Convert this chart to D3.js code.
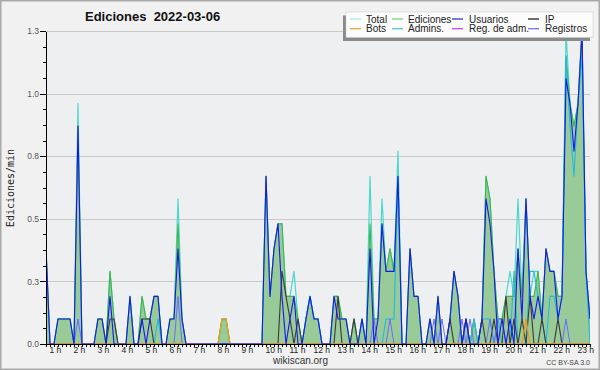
<!DOCTYPE html>
<meta charset="utf-8">
<style>
body { margin: 0; font-family: "Liberation Sans", Arial, sans-serif; }
.axis path, .axis line { stroke: #000; shape-rendering: crispEdges; }
.axis text { fill: #333; font-family: "Liberation Sans", Arial, sans-serif; }
</style>
<body>
<svg width="600" height="370"></svg>
<script src="https://d3js.org/d3.v7.min.js"></script>
<script>

// 10-minute bins from 1:00 to 23:40, edits per minute
var hourLabels = ["1 h","2 h","3 h","4 h","5 h","6 h","7 h","8 h","9 h","10 h","11 h","12 h",
                  "13 h","14 h","15 h","16 h","17 h","18 h","19 h","20 h","21 h","22 h","23 h"];
var yTicks = [0, 0.25, 0.5, 0.75, 1, 1.25];
var yTickLabels = ["0.0", "0.3", "0.5", "0.8", "1.0", "1.3"];
var legendNames = ["Total", "Ediciones", "Usuarios", "IP", "Bots", "Admins.", "Reg. de adm.", "Registros"];

var total = [
  0.38,0,0,0.1,0.1,0.1,  0.1,0,0.96,0,0,0,  0,0.1,0.1,0,0.29,0.1,  0,0,0,0.19,0,0,
  0.19,0.1,0.1,0.19,0.19,0,  0,0.1,0.1,0.58,0.1,0,  0,0,0,0,0,0,  0,0,0.1,0.1,0,0,
  0,0,0,0,0,0,  0,0.67,0.19,0.38,0.48,0.48,  0.19,0.19,0.29,0.1,0,0.1,  0.19,0.1,0.1,0,0,0,
  0.19,0.19,0.1,0.1,0,0.1,  0,0.1,0,0.67,0.1,0.1,  0.58,0.29,0.38,0.29,0.77,0,  0,0.38,0.19,0.19,0,0,
  0.1,0,0.19,0,0,0.1,  0.29,0.19,0,0.1,0,0.1,  0,0.1,0.67,0.58,0.29,0.1,  0.1,0.19,0.29,0.19,0.58,0.19,
  0.58,0.19,0.29,0.29,0.1,0.38,  0.29,0.29,0.19,0.19,1.25,0.96,  0.87,0.96,1.25,0.29,0.1
];
var ediciones = [
  0.38,0,0,0.1,0.1,0.1,  0.1,0,0.87,0,0,0,  0,0.1,0.1,0,0.29,0.1,  0,0,0,0.19,0,0,
  0.19,0.1,0.1,0.19,0.19,0,  0,0.1,0.1,0.48,0.1,0,  0,0,0,0,0,0,  0,0,0.1,0.1,0,0,
  0,0,0,0,0,0,  0,0.67,0.19,0.38,0.48,0.48,  0.19,0.19,0.19,0.1,0,0.1,  0.19,0.1,0.1,0,0,0,
  0.19,0.19,0.1,0.1,0,0.1,  0,0.1,0,0.48,0.1,0.1,  0.48,0.29,0.38,0.29,0.67,0,  0,0.38,0.19,0.19,0,0,
  0.1,0,0.19,0,0,0.1,  0.29,0.19,0,0.1,0,0.1,  0,0.1,0.67,0.58,0.29,0.1,  0.1,0.19,0.19,0.19,0.38,0.19,
  0.58,0.19,0.19,0.29,0.1,0.38,  0.29,0.29,0.19,0.19,1.15,0.96,  0.87,0.96,1.25,0.29,0.1
];
var usuarios = [
  0.38,0,0,0.1,0.1,0.1,  0.1,0,0.87,0,0,0,  0,0.1,0.1,0,0.19,0,  0,0,0,0.19,0,0,
  0.1,0,0.1,0.19,0.19,0,  0,0.1,0.1,0.38,0.1,0,  0,0,0,0,0,0,  0,0,0,0,0,0,
  0,0,0,0,0,0,  0,0.67,0.19,0.38,0.48,0.19,  0,0.1,0.19,0,0,0.1,  0.19,0.1,0.1,0,0,0,
  0.19,0.1,0.1,0.1,0,0,  0,0.1,0,0.38,0,0.1,  0.48,0.29,0.29,0.29,0.67,0,  0,0.38,0.19,0.19,0,0,
  0.1,0,0.19,0,0,0.1,  0.29,0.19,0,0.1,0,0,  0,0.1,0.58,0.48,0.29,0,  0.1,0,0.1,0,0.38,0.1,
  0.58,0.19,0.1,0.19,0.1,0.38,  0.29,0.29,0.1,0.19,1.06,0.96,  0.77,0.96,1.25,0.29,0.1
];
var ip = [
  0,0,0,0,0,0,  0,0,0,0,0,0,  0,0,0,0,0.1,0.1,  0,0,0,0,0,0,
  0.1,0.1,0.1,0,0,0,  0,0,0,0,0,0,  0,0,0,0,0,0,  0,0,0,0,0,0,
  0,0,0,0,0,0,  0,0,0,0,0,0.29,  0.19,0.1,0,0.1,0,0,  0,0,0,0,0,0,
  0,0.19,0,0,0,0.1,  0,0,0,0,0,0,  0,0,0,0,0,0,  0,0,0,0,0,0,
  0,0,0,0,0,0.1,  0,0,0,0.1,0,0,  0,0.1,0,0,0.1,0,  0,0.19,0,0.1,0,0.1,
  0,0.19,0,0,0.1,0,  0,0,0.1,0,0,0,  0,0,0,0,0
];
var bots = [
  0,0,0,0,0,0,  0,0,0,0,0,0,  0,0,0,0,0,0,  0,0,0,0,0,0,
  0,0,0,0,0,0,  0,0,0,0,0,0,  0,0,0,0,0,0,  0,0,0.1,0.1,0,0,
  0,0,0,0,0,0,  0,0,0,0,0,0,  0,0,0,0,0,0,  0,0,0,0,0,0,
  0,0,0,0,0,0,  0,0,0,0,0,0,  0,0,0,0,0,0,  0,0,0,0,0,0,
  0,0,0,0,0,0,  0,0,0,0,0,0,  0,0,0,0,0,0,  0,0,0,0,0,0,
  0.1,0,0,0,0,0,  0,0,0,0,0,0,  0,0,0,0,0
];
var admins = [
  0,0,0,0,0,0,  0,0,0,0,0,0,  0,0,0,0,0,0,  0,0,0,0,0,0,
  0,0,0,0,0.1,0,  0,0,0,0,0,0,  0,0,0,0,0,0,  0,0,0,0,0,0,
  0,0,0,0,0,0,  0,0,0,0,0,0,  0,0,0,0,0,0.1,  0.19,0.1,0.1,0,0,0,
  0,0,0,0,0,0,  0,0,0,0,0,0,  0,0.1,0.1,0.1,0.67,0,  0,0,0,0,0,0,
  0,0,0,0,0,0,  0,0,0,0,0,0.1,  0,0.1,0.1,0.1,0,0.1,  0,0,0,0.29,0,0,
  0,0.29,0.29,0.19,0.1,0,  0.19,0.19,0.1,0.19,1.15,0.87,  0.67,0.96,1.15,0.29,0
];
var registros = [
  0,0,0,0,0,0,  0,0,0.1,0,0,0,  0,0,0,0,0,0,  0,0,0,0,0,0,
  0,0,0,0,0,0,  0,0,0,0.19,0,0,  0,0,0,0,0,0,  0,0,0,0,0,0,
  0,0,0,0,0,0,  0,0,0,0,0,0,  0,0,0,0,0,0,  0,0,0,0,0,0,
  0,0,0,0,0,0,  0,0,0,0,0.1,0,  0,0,0.1,0,0,0,  0,0,0,0,0,0,
  0,0.1,0,0.1,0,0,  0,0,0.1,0,0.1,0,  0,0,0,0.1,0,0.1,  0.1,0,0,0,0,0,
  0,0,0,0,0,0,  0,0,0,0,0.1,0,  0,0,0,0,0
];

var lineColors = {
  total: "#4ad8cb", ediciones: "#46b446", usuarios: "#1818ee", ip: "#3a3a3a",
  bots: "#f09a20", admins: "#26b8dc", registros: "#6c6cff"
};
var legendColors = ["#b2e8e0", "#7fd07f", "#3535d0", "#222222", "#f2a040", "#50c8e0", "#d045e0", "#7474f0"];

var svg = d3.select("svg"),
    plotLeft = 46, plotRight = 590, plotTop = 31, plotBottom = 344;

svg.append("rect")
    .attr("x", 0.75).attr("y", 0.75)
    .attr("width", 598.5).attr("height", 368.5)
    .attr("fill", "#f1f1f1")
    .attr("stroke", "#a9a9a9").attr("stroke-width", 1.5);

svg.append("rect")
    .attr("x", plotLeft).attr("y", plotTop)
    .attr("width", plotRight - plotLeft).attr("height", plotBottom - plotTop)
    .attr("fill", "#eeeff1");

var x = d3.scaleLinear().domain([0, total.length - 1]).range([plotLeft, plotRight]);
var y = d3.scaleLinear().domain([0, 1.25]).range([plotBottom, plotTop]);

// grid
svg.append("g").selectAll("line")
    .data(yTicks.slice(1))
    .enter().append("line")
    .attr("x1", plotLeft).attr("x2", plotRight)
    .attr("y1", function (d) { return Math.round(y(d)) + 0.5; })
    .attr("y2", function (d) { return Math.round(y(d)) + 0.5; })
    .attr("stroke", "#c9c9c9");

svg.append("clipPath").attr("id", "clip")
    .append("rect")
    .attr("x", plotLeft).attr("y", plotTop - 2)
    .attr("width", plotRight - plotLeft).attr("height", plotBottom - plotTop + 2);

var plot = svg.append("g").attr("clip-path", "url(#clip)");

var area = d3.area()
    .x(function (d, i) { return x(i); })
    .y0(y(0))
    .y1(function (d) { return y(d); });
var line = d3.line()
    .x(function (d, i) { return x(i); })
    .y(function (d) { return y(d); });

plot.append("path")
    .datum(ediciones)
    .attr("d", area)
    .attr("fill", "#99cb99");

function drawLine(data, color, w) {
  plot.append("path")
      .datum(data)
      .attr("d", line)
      .attr("fill", "none")
      .attr("stroke", color)
      .attr("stroke-width", w)
      .attr("stroke-linejoin", "round");
}
drawLine(total, lineColors.total, 1.2);
drawLine(ediciones, lineColors.ediciones, 1.1);
drawLine(admins, lineColors.admins, 1.1);
drawLine(ip, lineColors.ip, 1.1);
drawLine(registros, lineColors.registros, 1.0);
drawLine(bots, lineColors.bots, 1.3);
drawLine(usuarios, lineColors.usuarios, 1.1);

// y axis
svg.append("g")
    .attr("class", "axis")
    .attr("transform", "translate(" + plotLeft + ",0)")
    .call(d3.axisLeft(y).tickValues(d3.range(0, 21).map(function (k) { return k * 0.0625; }))
        .tickSize(3).tickSizeOuter(0).tickFormat(""));
var yAxis = svg.append("g")
    .attr("class", "axis")
    .attr("transform", "translate(" + plotLeft + ",0)")
    .call(d3.axisLeft(y).tickValues(yTicks).tickSize(6).tickSizeOuter(0)
        .tickFormat(function (d, i) { return yTickLabels[i]; }));
yAxis.selectAll("text")
    .attr("x", -7)
    .style("font-size", "8.5px")
    .style("fill", "#555");

// x axis
svg.append("g")
    .attr("class", "axis")
    .attr("transform", "translate(0," + plotBottom + ")")
    .call(d3.axisBottom(x).tickValues(d3.range(0, total.length))
        .tickSize(3).tickSizeOuter(0).tickFormat(""));
var xAxis = svg.append("g")
    .attr("class", "axis")
    .attr("transform", "translate(0," + plotBottom + ")")
    .call(d3.axisBottom(x).tickValues(hourLabels.map(function (d, i) { return i * 6; }))
        .tickSize(3).tickSizeOuter(0)
        .tickFormat(function (d, i) { return hourLabels[i]; }));
xAxis.select(".domain").remove();
xAxis.selectAll("text")
    .attr("text-anchor", "start")
    .attr("x", 3)
    .attr("y", 2.5)
    .style("font-size", "8.5px")
    .style("fill", "#222");

// titles
svg.append("text")
    .attr("x", 85).attr("y", 21)
    .style("font-size", "13px").style("font-weight", "bold")
    .style("white-space", "pre")
    .style("fill", "#111")
    .text("Ediciones  2022-03-06");

svg.append("text")
    .attr("transform", "translate(14,188) rotate(-90)")
    .attr("text-anchor", "middle")
    .style("font-family", "'DejaVu Sans Mono', monospace")
    .style("font-size", "10px")
    .style("fill", "#222")
    .text("Ediciones/min");

svg.append("text")
    .attr("x", 300.5).attr("y", 364)
    .attr("text-anchor", "middle")
    .style("font-size", "10px")
    .style("fill", "#333")
    .text("wikiscan.org");

svg.append("text")
    .attr("x", 590).attr("y", 365)
    .attr("text-anchor", "end")
    .style("font-size", "7px")
    .style("fill", "#444")
    .text("CC BY-SA 3.0");

// legend
var legend = svg.append("g");
legend.append("rect")
    .attr("x", 343).attr("y", 15.5)
    .attr("width", 247).attr("height", 25.5)
    .attr("fill", "#8a8a8a");
legend.append("rect")
    .attr("x", 346).attr("y", 12)
    .attr("width", 247).attr("height", 25.5)
    .attr("fill", "#fcfcfc")
    .attr("stroke", "#c8c8c8").attr("stroke-width", 0.5);

var colSwatch = [350, 392, 452, 528],
    colText = [366, 408, 469, 545];
legendNames.forEach(function (name, k) {
  var col = k % 4, row = Math.floor(k / 4);
  var ly = 19 + row * 9.7;
  legend.append("line")
      .attr("x1", colSwatch[col]).attr("x2", colSwatch[col] + 11)
      .attr("y1", ly).attr("y2", ly)
      .attr("stroke", legendColors[k]).attr("stroke-width", 1.3);
  legend.append("text")
      .attr("x", colText[col]).attr("y", ly + 3.6)
      .style("font-size", "10px")
      .style("fill", "#222")
      .text(name);
});

</script>
</body>
</html>
